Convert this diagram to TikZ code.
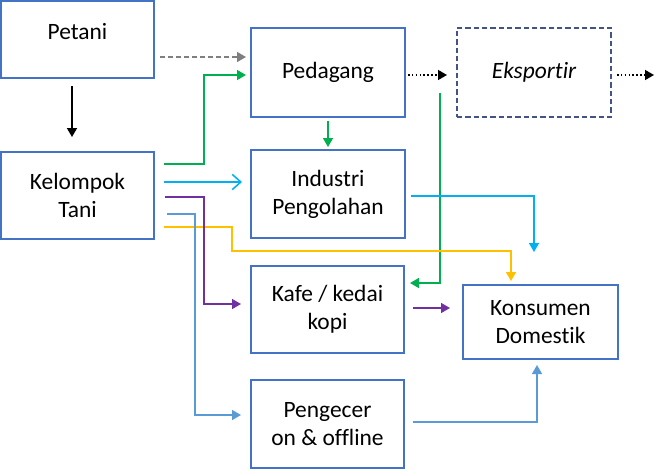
\documentclass[tikz,border=0pt]{standalone}
\usepackage{fontspec}
\setmainfont{Carlito}[Ligatures=NoCommon]
\usetikzlibrary{arrows.meta,calc}

\definecolor{boxblue}{HTML}{4472C4}
\definecolor{exportblue}{RGB}{68,84,130}
\definecolor{flowgreen}{HTML}{00B050}
\definecolor{flowcyan}{HTML}{00B0F0}
\definecolor{flowpurple}{HTML}{7030A0}
\definecolor{flowyellow}{HTML}{FFC000}
\definecolor{flowsteel}{HTML}{5B9BD5}
\definecolor{flowgray}{HTML}{7F7F7F}

\tikzset{
	box/.style={draw=boxblue, line width=1.5pt, fill=white, inner sep=0pt, outer sep=0pt,
		minimum width=4.62cm, minimum height=2.64cm, align=center,
		font=\fontsize{20}{24}\selectfont},
	flow/.style={line width=1.3pt, -{Triangle[length=2.7mm,width=3mm]}},
	openflow/.style={line width=1.3pt, -{Straight Barb[length=2.6mm,width=4.6mm,line width=1.3pt]}},
}

\begin{document}
\begin{tikzpicture}[x=0.03cm, y=-0.03cm]
		\useasboundingbox (0,0) rectangle (655,470);

		% Define the actors
		\node[box, minimum width=4.59cm, minimum height=2.31cm, text depth=0.48cm] (petani) at (77.5,39.5) {Petani};
		\node[box, minimum width=4.59cm, minimum height=2.61cm] (kelompok) at (77.5,195.5) {Kelompok\\Tani};
		\node[box, minimum height=2.67cm] (pedagang) at (328,72.5) {Pedagang};
		\node[box, minimum height=2.67cm, draw=exportblue, dash pattern=on 0.16cm off 0.09cm] (eksportir) at (534,72.5) {\itshape Eksportir};
		\node[box] (industri) at (328,194) {Industri\\Pengolahan};
		\node[box, minimum width=4.59cm, minimum height=2.61cm] (kafe) at (327.5,309.5) {Kafe / kedai\\kopi};
		\node[box, minimum width=4.59cm] (pengecer) at (327.5,424) {Pengecer\\on \& offline};
		\node[box, minimum width=4.65cm, minimum height=2.22cm] (konsumen) at (540.5,322) {Konsumen\\Domestik};

		% Free ends
		\coordinate (keluar) at (654,75);
		\coordinate (hijau) at (440,93);

		% Upper chain
		\draw[flow, black] ($(petani.south)+(-5.5,8)$) -- ($(kelompok.north)+(-5.5,-15)$);
		\draw[flow, flowgray, dash pattern=on 0.15cm off 0.09cm] ($(petani.east)+(6,17.5)$) -- ($(pedagang.west)+(-5,-15.5)$);
		\draw[flow, black, dotted] ($(pedagang.east)+(3,2.5)$) -- ($(eksportir.west)+(-10,2.5)$);
		\draw[flow, black, dotted] ($(eksportir.east)+(6,2.5)$) -- (keluar);

		% Green flows
		\draw[flow, flowgreen] ($(kelompok.east)+(10,-31.5)$) -| (204,75) -- ($(pedagang.west)+(-5,2.5)$);
		\draw[flow, flowgreen] ($(pedagang.south)+(0,4)$) -- ($(industri.north)+(0,-3)$);
		\draw[flow, flowgreen] (hijau) |- ($(kafe.east)+(6,-26.5)$);

		% Cyan flows
		\draw[openflow, flowcyan] ($(kelompok.east)+(10,-13.5)$) -- ($(industri.west)+(-9,-12)$);
		\draw[flow, flowcyan] ($(industri.east)+(6,2)$) -| ($(konsumen.north)+(-6.5,-33)$);

		% Yellow flow
		\draw[flow, flowyellow] ($(kelompok.east)+(10,31.5)$) -| (232,251) -| ($(konsumen.north)+(-29.5,-4)$);

		% Purple flows
		\draw[flow, flowpurple] ($(kelompok.east)+(11,1.5)$) -| (204,304) -- ($(kafe.west)+(-10,-5.5)$);
		\draw[flow, flowpurple] ($(kafe.east)+(9,-1.5)$) -- ($(konsumen.west)+(-13,-14)$);

		% Retail flows
		\draw[flow, flowsteel] ($(kelompok.east)+(13,18.5)$) -| (195,415) -- ($(pengecer.west)+(-10,-9)$);
		\draw[flow, flowsteel] ($(pengecer.east)+(9,-2)$) -| ($(konsumen.south)+(-3.5,6)$);
	\end{tikzpicture}
\end{document}
